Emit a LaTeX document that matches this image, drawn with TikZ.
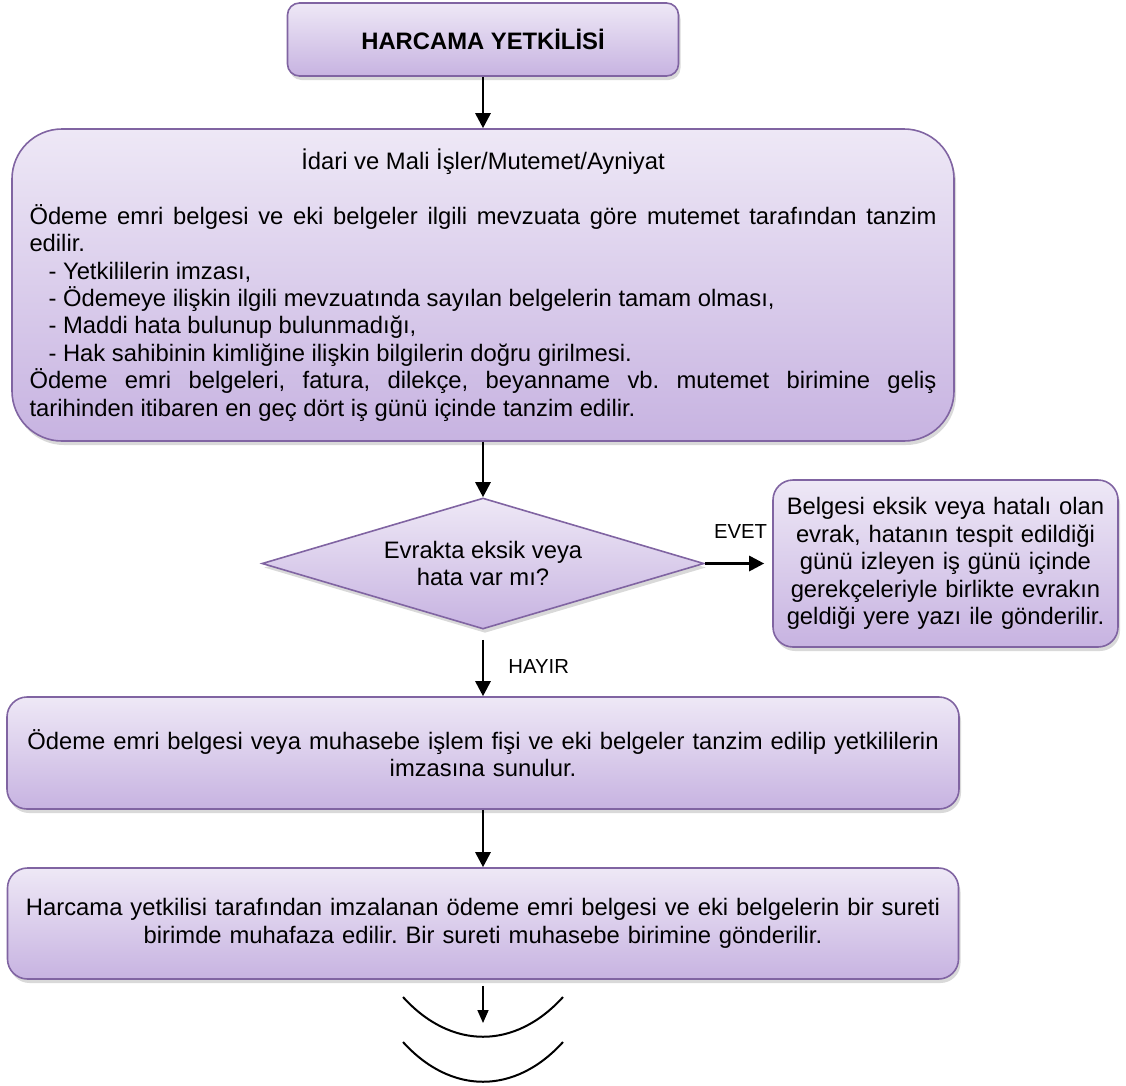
\documentclass[tikz,border=0pt]{standalone}
\usepackage{fontspec}
\setmainfont{Liberation Sans}
\usetikzlibrary{shapes.geometric,shadows,arrows.meta}
\definecolor{kututop}{HTML}{EEE8F6}
\definecolor{kutualt}{HTML}{C7B3E1}
\definecolor{kutucizgi}{HTML}{8064A2}
\frenchspacing

\begin{document}
\begin{tikzpicture}[x=1pt,y=-1pt,
        kutu/.style={draw=kutucizgi,line width=1.6pt,top color=kututop,bottom color=kutualt,
            drop shadow={opacity=0.3,shadow xshift=2pt,shadow yshift=-4pt},
            inner sep=0pt,font=\fontsize{23.8}{27.4}\selectfont},
        ok/.style={-{Triangle[length=15pt,width=15pt]},line width=2.8pt},
        etiket/.style={inner sep=0pt,font=\fontsize{20.3}{24}\selectfont}]
        \useasboundingbox (0,0) rectangle (1126,1085);
        \def\X{483}
        \node[kutu,rounded corners=12pt,minimum width=391pt,minimum height=73pt,font=\fontsize{23.8}{27.4}\selectfont\bfseries] (baslik) at (\X,39.5) {HARCAMA YETKİLİSİ};
        \node[kutu,rounded corners=50pt,minimum width=942pt,minimum height=312pt,text width=907pt,align=justify] (mutemet) at (\X,285) {\sloppy
            \makebox[\linewidth]{İdari ve Mali İşler/Mutemet/Ayniyat}\\[27.4pt]
            Ödeme emri belgesi ve eki belgeler ilgili mevzuata göre mutemet tarafından tanzim\linebreak edilir.\\
            \hspace*{19pt}- Yetkililerin imzası,\\
            \hspace*{19pt}- Ödemeye ilişkin ilgili mevzuatında sayılan belgelerin tamam olması,\\
            \hspace*{19pt}- Maddi hata bulunup bulunmadığı,\\
            \hspace*{19pt}- Hak sahibinin kimliğine ilişkin bilgilerin doğru girilmesi.\\
            Ödeme emri belgeleri, fatura, dilekçe, beyanname vb. mutemet birimine geliş\linebreak tarihinden itibaren en geç dört iş günü içinde tanzim edilir.};
        \node[kutu,diamond,aspect=3.37,minimum width=442pt,minimum height=131pt,align=center] (karar) at (\X,563.5) {Evrakta eksik veya\\hata var mı?};
        \node[kutu,rounded corners=20pt,minimum width=345pt,minimum height=167pt,text width=330pt,align=center] (hata) at (945.5,563.5) {Belgesi eksik veya hatalı olan\\evrak, hatanın tespit edildiği\\günü izleyen iş günü içinde\\gerekçeleriyle birlikte evrakın\\geldiği yere yazı ile gönderilir.};
        \node[kutu,rounded corners=20pt,minimum width=952pt,minimum height=112pt,text width=930pt,align=center] (imza) at (\X,753) {Ödeme emri belgesi veya muhasebe işlem fişi ve eki belgeler tanzim edilip yetkililerin\\imzasına sunulur.};
        \node[kutu,rounded corners=20pt,minimum width=951pt,minimum height=111pt,text width=930pt,align=center] (arsiv) at (\X,923.5) {Harcama yetkilisi tarafından imzalanan ödeme emri belgesi ve eki belgelerin bir sureti\\birimde muhafaza edilir. Bir sureti muhasebe birimine gönderilir.};
        \coordinate (devam) at (\X,1023);
        \draw[ok] (baslik) -- (mutemet);
        \draw[ok] (mutemet) -- (karar);
        \draw[ok,shorten >=8pt] (karar) -- node[etiket,above=24pt,xshift=2pt] {EVET} (hata);
        \draw[ok,shorten <=10pt] (karar) -- node[etiket,right=24pt,yshift=-4pt] {HAYIR} (imza);
        \draw[ok] (imza) -- (arsiv);
        \draw[-{Triangle[length=13pt,width=11pt]},line width=1.7pt,shorten <=6pt] (arsiv) -- (devam);
        \foreach\dy in {0,45}{
            \draw[line width=2pt] ({\X-80},{997+\dy}) .. controls ({\X-32},{1050+\dy}) and ({\X+32},{1050+\dy}) .. ({\X+80},{997+\dy});
        }
    \end{tikzpicture}
\end{document}
